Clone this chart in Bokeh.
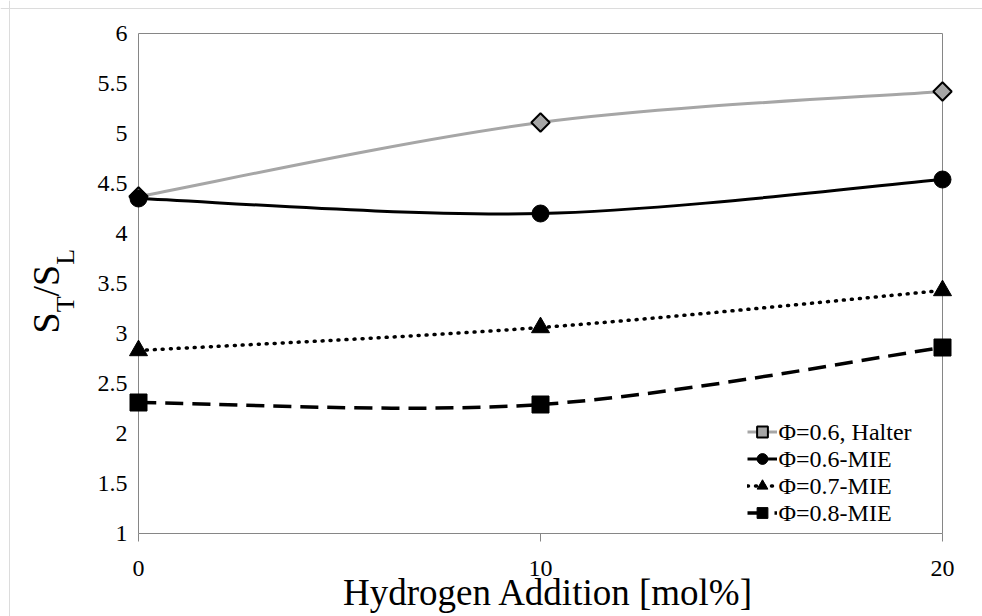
from math import pi
from bokeh.plotting import figure
from bokeh.models import Range1d, FixedTicker, Label, Legend, LegendItem, Span
from bokeh.embed import file_html
from bokeh.resources import INLINE

# ---------------- data ----------------
x_h2 = [0, 10, 20]
halter_06 = [4.37, 5.11, 5.42]
mie_06 = [4.35, 4.20, 4.54]
mie_07 = [2.83, 3.06, 3.43]
mie_08 = [2.31, 2.29, 2.86]
series_labels = ["Φ=0.6, Halter", "Φ=0.6-MIE", "Φ=0.7-MIE", "Φ=0.8-MIE"]
x_ticks = [0, 10, 20]
x_tick_labels = ["0", "10", "20"]
y_ticks = [1, 1.5, 2, 2.5, 3, 3.5, 4, 4.5, 5, 5.5, 6]
y_tick_labels = ["1", "1.5", "2", "2.5", "3", "3.5", "4", "4.5", "5", "5.5", "6"]
x_title = "Hydrogen Addition [mol%]"
y_title_parts = [("S", False), ("T", True), ("/S", False), ("L", True)]

# ---------------- layout ----------------
W, H = 982, 616
BOX_L, BOX_R, BOX_T, BOX_B = 138, 942, 33, 533   # plot box, canvas px
X0, X1, Y0, Y1 = 0, 20, 1, 6
xpp = (X1 - X0) / (BOX_R - BOX_L)
ypp = (Y1 - Y0) / (BOX_B - BOX_T)

FONT = "'Liberation Serif', 'Times New Roman', serif"
BOX_COLOR = "#868686"
TICK_SIZE = "24px"

# the frame fills the whole canvas so nothing gets clipped
p = figure(width=W, height=H,
           x_range=Range1d(X0 - BOX_L * xpp, X1 + (W - BOX_R) * xpp),
           y_range=Range1d(Y0 - (H - BOX_B) * ypp, Y1 + BOX_T * ypp),
           output_backend="svg", toolbar_location=None,
           min_border_left=0, min_border_right=0,
           min_border_top=0, min_border_bottom=0)
p.outline_line_color = None
p.grid.visible = False
p.background_fill_color = "white"
p.border_fill_color = "white"

# faint page edge lines
p.add_layout(Span(location=Y1 + (BOX_T - 8) * ypp, dimension="width",
                  line_color="#dcdcdc", line_width=1))
p.add_layout(Span(location=X0 - (BOX_L - 9) * xpp, dimension="height",
                  line_color="#dcdcdc", line_width=1))

# plot box
p.quad(left=[X0], right=[X1], bottom=[Y0], top=[Y1], fill_color=None,
       line_color=BOX_COLOR, line_width=1)

# axes (pinned to the box edges); their labels are drawn as serif Labels below
p.xaxis.fixed_location = Y0
p.xaxis.ticker = FixedTicker(ticks=x_ticks)
p.xaxis.major_label_overrides = {v: "" for v in x_ticks}
p.xaxis.axis_line_color = None
p.xaxis.major_tick_in = 0
p.xaxis.major_tick_out = 8
p.xaxis.major_tick_line_color = BOX_COLOR
p.xaxis.minor_tick_line_color = None

p.yaxis.fixed_location = X0
p.yaxis.ticker = FixedTicker(ticks=y_ticks)
p.yaxis.major_label_overrides = {v: "" for v in y_ticks}
p.yaxis.axis_line_color = None
p.yaxis.major_tick_line_color = None
p.yaxis.major_tick_in = 0
p.yaxis.major_tick_out = 0
p.yaxis.minor_tick_line_color = None

for v, s in zip(x_ticks, x_tick_labels):
    p.add_layout(Label(x=v, y=H - 568, x_units="data", y_units="screen", text=s,
                       text_align="center", text_baseline="middle",
                       text_font=FONT, text_font_size=TICK_SIZE, text_color="black"))
for v, s in zip(y_ticks, y_tick_labels):
    p.add_layout(Label(x=BOX_L - 11, y=v, x_units="screen", y_units="data", text=s,
                       text_align="right", text_baseline="middle",
                       text_font=FONT, text_font_size=TICK_SIZE, text_color="black"))


def smooth_segments(xs, ys):
    px = [xs[0]] + list(xs) + [xs[-1]]
    py = [ys[0]] + list(ys) + [ys[-1]]
    seg = dict(x0=[], y0=[], x1=[], y1=[], cx0=[], cy0=[], cx1=[], cy1=[])
    for i in range(len(xs) - 1):
        a, b, c, d = i, i + 1, i + 2, i + 3
        seg["x0"].append(px[b]); seg["y0"].append(py[b])
        seg["x1"].append(px[c]); seg["y1"].append(py[c])
        seg["cx0"].append(px[b] + (px[c] - px[a]) / 6)
        seg["cy0"].append(py[b] + (py[c] - py[a]) / 6)
        seg["cx1"].append(px[c] - (px[d] - px[b]) / 6)
        seg["cy1"].append(py[c] - (py[d] - py[b]) / 6)
    return seg


styles = [
    dict(ys=halter_06, color="#a6a6a6", width=3, dash="solid", cap="butt",
         marker="square", size=13, angle=pi / 4, fill="#a6a6a6", mline=2),
    dict(ys=mie_06, color="black", width=3, dash="solid", cap="butt",
         marker="circle", size=17, angle=0, fill="black", mline=1),
    dict(ys=mie_07, color="black", width=3.5, dash="1 7", cap="round",
         marker="triangle", size=18, angle=0, fill="black", mline=1),
    dict(ys=mie_08, color="black", width=3.5, dash="18 9", cap="butt",
         marker="square", size=17, angle=0, fill="black", mline=1),
]

items = []
for st in styles:
    seg = smooth_segments(x_h2, st["ys"])
    b = p.bezier(source=seg, x0="x0", y0="y0", x1="x1", y1="y1",
                 cx0="cx0", cy0="cy0", cx1="cx1", cy1="cy1",
                 line_color=st["color"], line_width=st["width"],
                 line_dash=st["dash"], line_cap=st["cap"])
    s = p.scatter(x=x_h2, y=st["ys"], marker=st["marker"], size=st["size"],
                  angle=st["angle"], fill_color=st["fill"], line_color="black",
                  line_width=st["mline"])
    items.append(LegendItem(label=" ", renderers=[b, s]))

# legend: Bokeh legend draws the glyphs, serif Labels carry the entry texts
LEG_X, LEG_BOTTOM, ROW_H = 747, 526, 27
legend = Legend(items=items, location=(LEG_X, H - LEG_BOTTOM))
legend.glyph_width = 30
legend.glyph_height = ROW_H
legend.label_height = ROW_H
legend.label_width = 10
legend.label_text_font_size = "10px"
legend.spacing = 0
legend.padding = 0
legend.margin = 0
legend.label_standoff = 0
legend.border_line_color = None
legend.background_fill_alpha = 0
p.add_layout(legend)
n = len(series_labels)
for k, lbl in enumerate(series_labels):
    row_center = LEG_BOTTOM - ROW_H * (n - k - 0.5)
    p.add_layout(Label(x=LEG_X + 31, y=H - row_center, x_units="screen", y_units="screen",
                       text=lbl, text_align="left", text_baseline="middle",
                       text_font=FONT, text_font_size="24px", text_color="black"))

# x-axis title
TITLE_SIZE = 37
BASE_SHIFT = 0.367   # Bokeh's alphabetic anchor sits this far (in em) above the glyph baseline
p.add_layout(Label(x=(BOX_L + BOX_R) / 2 + 8, y=H - (606 - BASE_SHIFT * TITLE_SIZE),
                   x_units="screen", y_units="screen", text=x_title,
                   text_align="center", text_baseline="alphabetic",
                   text_font=FONT, text_font_size=f"{TITLE_SIZE}px", text_color="black"))

# y-axis title  S_T/S_L  (rotated)
MAIN_SIZE, SUB_SIZE = 38, 26
adv = {"S": 0.556, "T": 0.611, "L": 0.611, "/": 0.278}
main_base_x, sub_base_x = 59, 75
cur = 333
for txt, sub in y_title_parts:
    size = SUB_SIZE if sub else MAIN_SIZE
    bx = (sub_base_x if sub else main_base_x) - BASE_SHIFT * size
    p.add_layout(Label(x=bx, y=H - cur, x_units="screen", y_units="screen",
                       text=txt, angle=pi / 2, text_align="left",
                       text_baseline="alphabetic", text_font=FONT,
                       text_font_size=f"{size}px", text_color="black"))
    cur -= sum(adv[ch] for ch in txt) * size

open("out.html", "w").write(file_html(p, INLINE))
